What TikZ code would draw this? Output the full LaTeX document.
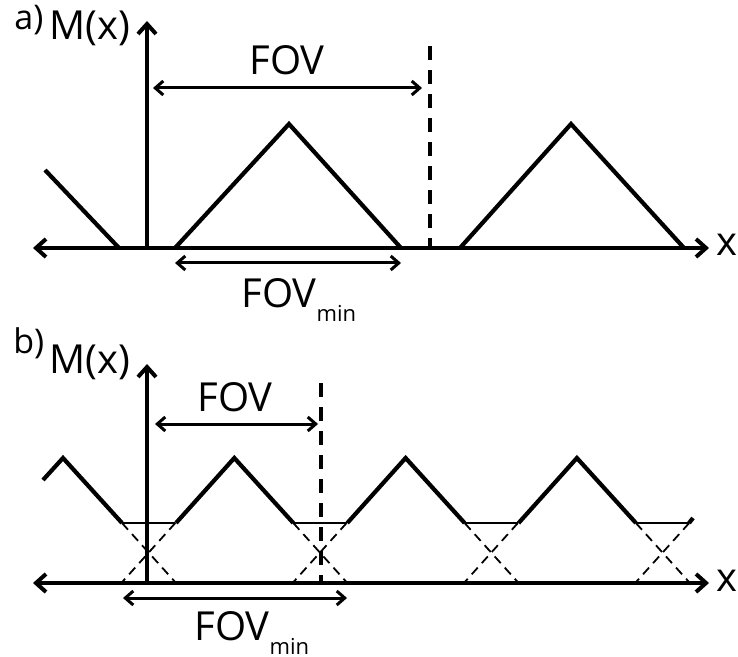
\documentclass[tikz,border=0pt]{standalone}
\usepackage{fontspec}
\setmainfont{Open Sans}
\usetikzlibrary{arrows.meta}

\newcommand{\fovmin}{FOV\raisebox{-7pt}{\fontsize{11}{12}\selectfont min}}

\begin{document}
\begin{tikzpicture}[x=0.5pt, y=-0.5pt,
    >={Straight Barb[length=5pt,width=9pt]},
    axis/.style={line width=2pt},
    wave/.style={line width=2.1pt, line join=miter},
    flat/.style={line width=1.3pt},
    fovarrow/.style={<->, line width=1.5pt, >={Straight Barb[length=4pt,width=7pt]}},
    cutline/.style={line width=2pt, dash pattern=on 7pt off 5pt},
    ghost/.style={line width=0.9pt, dash pattern=on 4.5pt off 3pt},
    lbl/.style={font=\fontsize{20}{23}\selectfont, inner sep=0pt},
    tag/.style={font=\fontsize{17}{19}\selectfont, inner sep=0pt}]
    \useasboundingbox (0,0) rectangle (738,657);

    % Hình a): hệ trục
    \coordinate (Oa) at (147,248);
    \coordinate (La) at (33,248);
    \coordinate (Ra) at (709,248);
    \coordinate (Ta) at (147,21);
    \draw[axis, <->] (La) -- (Ra);
    \draw[axis, ->] (Oa) -- (Ta);
    \node[tag, anchor=base west] (tagA) at (14,30) {a)};
    \node[lbl, anchor=base west] (Ma) at (49,40) {M(x)};
    \node[lbl, anchor=base west] (xa) at (716,256) {x};

    % Các tam giác
    \draw[wave] (45,170) -- (119,248);
    \draw[wave] (175,248) -- (289,124) -- (401,248);
    \draw[wave] (460,248) -- (571,124) -- (684,248);

    % FOV và đường cắt nét đứt
    \draw[cutline] (430,46) -- (430,248);
    \coordinate (fa1) at (153,88);
    \coordinate (fa2) at (422,88);
    \draw[fovarrow] (fa1) -- (fa2);
    \node[lbl] (fovA) at (287,60) {FOV};
    \coordinate (ma1) at (175,263);
    \coordinate (ma2) at (401,263);
    \draw[fovarrow] (ma1) -- (ma2);
    \node[lbl, anchor=base west] (fovminA) at (241,307) {\fovmin};

    % Hình b): hệ trục
    \coordinate (Ob) at (147,583);
    \coordinate (Lb) at (33,583);
    \coordinate (Rb) at (709,583);
    \coordinate (Tb) at (147,364);
    \draw[axis, <->] (Lb) -- (Rb);
    \draw[axis, ->] (Ob) -- (Tb);
    \node[tag, anchor=base west] (tagB) at (13,353) {b)};
    \node[lbl, anchor=base west] (Mb) at (49,373) {M(x)};
    \node[lbl, anchor=base west] (xb) at (716,591) {x};

    % Sóng tam giác chồng lên nhau
    \draw[wave] (43,480) -- (63,458) -- (122,523);
    \foreach \k in {0,...,3} {
        \draw[flat] ({122+171.3*\k},523) -- ({175.3+171.3*\k},523);
        \draw[ghost] ({122+171.3*\k},523) -- ({176+171.3*\k},583);
        \draw[ghost] ({175.3+171.3*\k},523) -- ({121.3+171.3*\k},583);
    }
    \foreach \k in {1,...,3} {
        \draw[wave] ({4.7+171.3*\k},523) -- ({63+171.3*\k},458) -- ({122+171.3*\k},523);
    }
    \draw[wave] (689,523) -- (693,518);

    % FOV và đường cắt nét đứt
    \draw[cutline] (321,383) -- (321,583);
    \coordinate (fb1) at (155,424);
    \coordinate (fb2) at (318,424);
    \draw[fovarrow] (fb1) -- (fb2);
    \node[lbl] (fovB) at (235,397) {FOV};
    \coordinate (mb1) at (123,598);
    \coordinate (mb2) at (347,598);
    \draw[fovarrow] (mb1) -- (mb2);
    \node[lbl, anchor=base west] (fovminB) at (194,640) {\fovmin};
\end{tikzpicture}
\end{document}
